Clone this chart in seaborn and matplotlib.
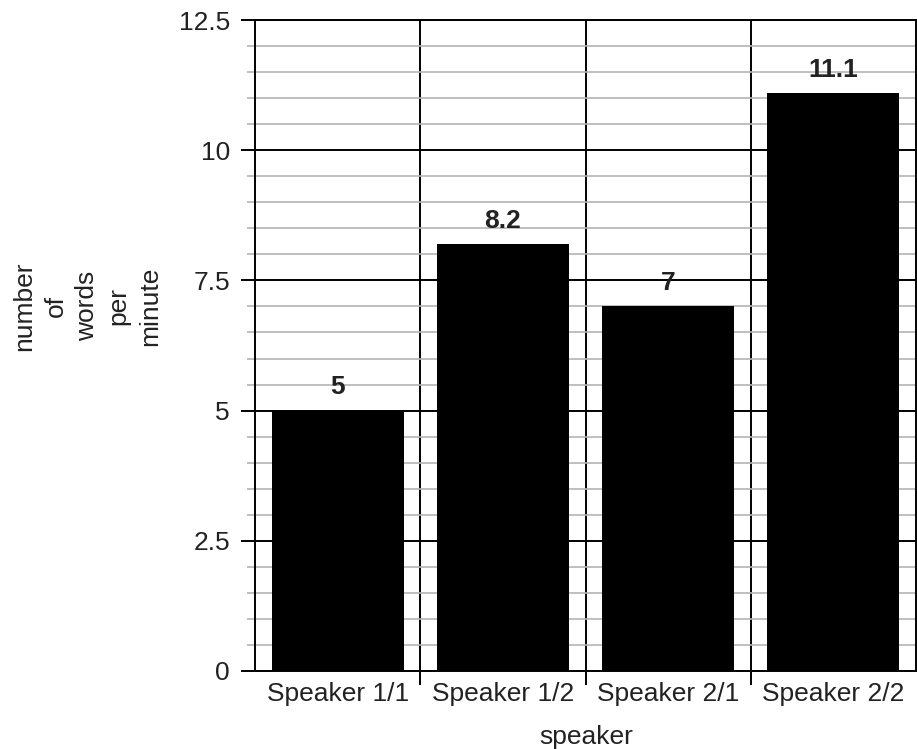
import matplotlib
matplotlib.use("Agg")
import matplotlib.pyplot as plt
import seaborn as sns
import pandas as pd
from matplotlib.ticker import MultipleLocator, FixedLocator, FuncFormatter

speakers = ["Speaker 1/1", "Speaker 1/2", "Speaker 2/1", "Speaker 2/2"]
words_per_minute = [5, 8.2, 7, 11.1]
value_labels = ["5", "8.2", "7", "11.1"]

sns.set_style("white")
plt.rcParams["font.family"] = ["Liberation Sans", "DejaVu Sans"]

df = pd.DataFrame({"speaker": speakers, "wpm": words_per_minute})

fig = plt.figure(figsize=(9.17, 7.49), dpi=100)
ax = fig.add_axes([255 / 917, 1 - 671 / 749, 661 / 917, 651 / 749])

sns.barplot(data=df, x="speaker", y="wpm", color="black", width=0.8,
            saturation=1, linewidth=0, ax=ax, zorder=3)

ax.set_xlim(-0.5, 3.5)
ax.set_ylim(0, 12.5)

ax.yaxis.set_major_locator(MultipleLocator(2.5))
ax.yaxis.set_minor_locator(MultipleLocator(0.5))
ax.yaxis.set_major_formatter(FuncFormatter(lambda v, p: f"{v:g}"))
ax.xaxis.set_minor_locator(FixedLocator([0.5, 1.5, 2.5]))

ax.grid(which="major", axis="y", color="black", linewidth=1.4, zorder=1)
ax.grid(which="minor", axis="y", color="#b4b4b4", linewidth=1.2, zorder=0)
ax.grid(which="minor", axis="x", color="black", linewidth=1.4, zorder=1)
ax.set_axisbelow(True)

fs = 19
ax.tick_params(axis="y", which="major", length=10, width=1.4, color="black",
               labelsize=fs, pad=8, labelcolor="#222222", direction="out", left=True)
ax.tick_params(axis="y", which="minor", length=6, width=1.2, color="#b4b4b4",
               direction="out", left=True)
ax.tick_params(axis="x", which="major", length=0, labelsize=fs, pad=8,
               labelcolor="#222222")
ax.tick_params(axis="x", which="minor", length=10, width=1.4, color="black",
               direction="out", bottom=True)

for s in ["left", "bottom", "top", "right"]:
    ax.spines[s].set_visible(True)
    ax.spines[s].set_color("black")
    ax.spines[s].set_linewidth(1.4)

ax.bar_label(ax.containers[0], labels=value_labels, padding=8,
             fontsize=fs, fontweight="bold", color="#222222")

ax.set_xlabel("")
ax.set_ylabel("")
fig.text(586 / 917, 1 - 737 / 749, "speaker", ha="center", va="center",
         fontsize=fs, color="#222222")
fig.text(87 / 917, 1 - 306 / 749, "number\nof\nwords\nper\nminute",
         rotation=90, ha="center", va="center", multialignment="center",
         fontsize=fs, color="#222222", linespacing=1.4)

fig.savefig("out.png", dpi=100)
